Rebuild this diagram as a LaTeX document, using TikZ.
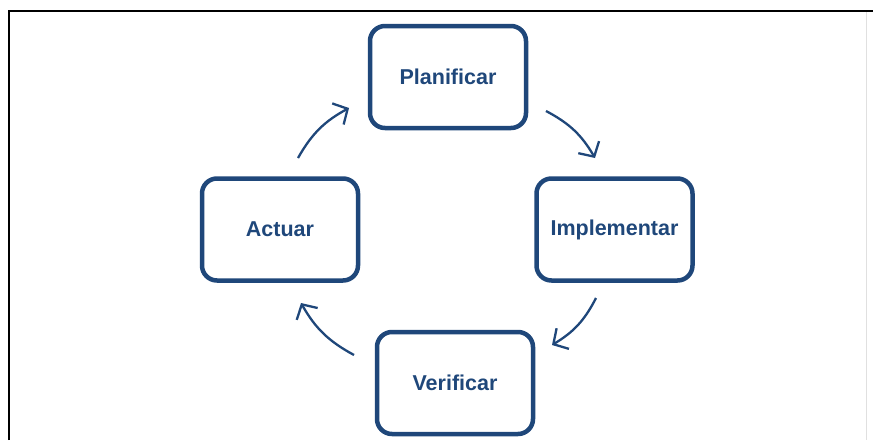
\documentclass[tikz,border=0pt]{standalone}
\usepackage{fontspec}
\setmainfont{Liberation Sans}
\usetikzlibrary{arrows.meta}
\definecolor{pdca}{RGB}{31,71,122}
\tikzset{
  stage/.style={draw=pdca, line width=4.5pt, rounded corners=15pt, minimum width=156pt, minimum height=102pt, text=pdca, font=\fontsize{21.5}{25}\selectfont\bfseries, inner sep=0pt},
  flow/.style={draw=pdca, line width=2.3pt, bend left=16, -{Straight Barb[length=11pt,width=24pt,line width=2.3pt]}},
  frame/.style={line width=2pt, black}
}
\begin{document}
\begin{tikzpicture}[x=1pt,y=-1pt]
\useasboundingbox (0,0) rectangle (873,440);
\draw[frame] (9,440) -- (9,11) -- (873,11);
\draw[black!12, line width=0.8pt] (866,12) -- (866,440);
\node[stage] (plan) at (448,77) {Planificar};
\node[stage] (impl) at (614.5,229.5) {Implementar};
\node[stage] (act) at (280,229.5) {Actuar};
\node[stage] (ver) at (455,383) {Verificar};
\coordinate (a1s) at (298,158); \coordinate (a1e) at (349,108);
\coordinate (a2s) at (546,111); \coordinate (a2e) at (595,158);
\coordinate (a3s) at (596,298); \coordinate (a3e) at (552,345);
\coordinate (a4s) at (354,355); \coordinate (a4e) at (301,303);
\draw[flow] (a1s) to (a1e);
\draw[flow] (a2s) to (a2e);
\draw[flow] (a3s) to (a3e);
\draw[flow] (a4s) to (a4e);
\end{tikzpicture}
\end{document}
